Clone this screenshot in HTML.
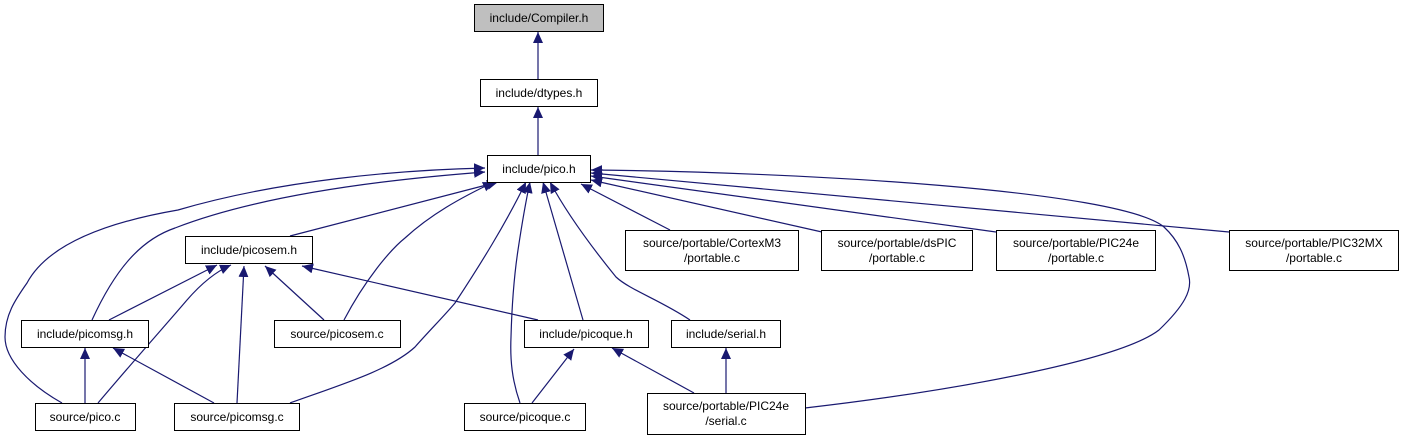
<!DOCTYPE html>
<html><head><meta charset="utf-8"><style>
body{margin:0;background:#fff;width:1402px;height:443px;overflow:hidden}
svg{display:block}
text{font-family:"Liberation Sans",sans-serif;font-size:12px;fill:#000}
</style></head><body>
<svg width="1402" height="443" viewBox="0 0 1402 443" xmlns="http://www.w3.org/2000/svg">
<defs>
<marker id="a" markerUnits="userSpaceOnUse" markerWidth="12" markerHeight="12" refX="11" refY="5" orient="auto">
<path d="M0,0 L11,5 L0,10 Z" fill="#191970"/>
</marker>
</defs>
<g fill="none" stroke="#191970" stroke-width="1.2" marker-end="url(#a)">
<path d="M538,79 L538,32"/>
<path d="M538,155 L538,107"/>
<path d="M290,236 L498,182"/>
<path d="M92,320 C115,270 140,240 175,228 C260,195 380,180 485,172"/>
<path d="M62,403 C30,385 5,360 5,337 C5,315 15,300 27,283 C50,240 120,220 178,210 C280,180 400,170 485,168"/>
<path d="M344,320 C365,280 390,250 405,238 C430,215 460,198 494,182"/>
<path d="M290,403 C340,385 390,370 415,347 C430,330 445,315 455,303 C480,265 505,225 526,182"/>
<path d="M520,403 C512,380 510,360 511,337 C512,300 515,270 518,250 C521,230 525,205 530,182"/>
<path d="M583,320 L543,182"/>
<path d="M690,320 C660,300 630,290 616,277 C590,245 565,210 550,182"/>
<path d="M670,230 L581,184"/>
<path d="M822,232 L591,180"/>
<path d="M996,232 L591,176"/>
<path d="M1229,232 L591,173"/>
<path d="M805,408 C960,390 1120,360 1159,330 C1185,305 1192,290 1189,277 C1185,255 1178,240 1164,227 C1120,190 800,172 591,170"/>
<path d="M85,403 L85,348"/>
<path d="M214,403 L113,348"/>
<path d="M98,403 C130,365 170,320 187,300 C200,285 215,272 231,265"/>
<path d="M109,320 L217,265"/>
<path d="M237,403 L244,266"/>
<path d="M324,320 L265,266"/>
<path d="M538,320 L302,266"/>
<path d="M532,403 L574,349"/>
<path d="M694,393 L612,348"/>
<path d="M726,393 L726,348"/>
</g>
<g stroke="#000" stroke-width="1" fill="#fff">
<rect x="474.5" y="4.5" width="129" height="27" fill="#bfbfbf"/>
<rect x="480.5" y="79.5" width="117" height="27"/>
<rect x="487.5" y="155.5" width="103" height="27"/>
<rect x="185.5" y="236.5" width="127" height="27"/>
<rect x="21.5" y="320.5" width="127" height="27"/>
<rect x="274.5" y="320.5" width="126" height="27"/>
<rect x="524.5" y="320.5" width="124" height="27"/>
<rect x="671.5" y="320.5" width="109" height="27"/>
<rect x="35.5" y="403.5" width="100" height="27"/>
<rect x="174.5" y="403.5" width="125" height="27"/>
<rect x="464.5" y="403.5" width="121" height="27"/>
<rect x="647.5" y="393.5" width="158" height="41"/>
<rect x="625.5" y="230.5" width="173" height="40"/>
<rect x="821.5" y="230.5" width="151" height="40"/>
<rect x="996.5" y="230.5" width="159" height="40"/>
<rect x="1229.5" y="230.5" width="169" height="40"/>
</g>
<g text-anchor="middle">
<text x="539" y="22">include/Compiler.h</text>
<text x="539" y="97">include/dtypes.h</text>
<text x="539" y="173">include/pico.h</text>
<text x="249" y="254">include/picosem.h</text>
<text x="85" y="338">include/picomsg.h</text>
<text x="337" y="338">source/picosem.c</text>
<text x="586" y="338">include/picoque.h</text>
<text x="726" y="338">include/serial.h</text>
<text x="85" y="421">source/pico.c</text>
<text x="237" y="421">source/picomsg.c</text>
<text x="525" y="421">source/picoque.c</text>
<text x="726" y="410">source/portable/PIC24e</text>
<text x="726" y="425">/serial.c</text>
<text x="712" y="247">source/portable/CortexM3</text>
<text x="712" y="262">/portable.c</text>
<text x="897" y="247">source/portable/dsPIC</text>
<text x="897" y="262">/portable.c</text>
<text x="1076" y="247">source/portable/PIC24e</text>
<text x="1076" y="262">/portable.c</text>
<text x="1314" y="247">source/portable/PIC32MX</text>
<text x="1314" y="262">/portable.c</text>
</g>
</svg>
</body></html>
